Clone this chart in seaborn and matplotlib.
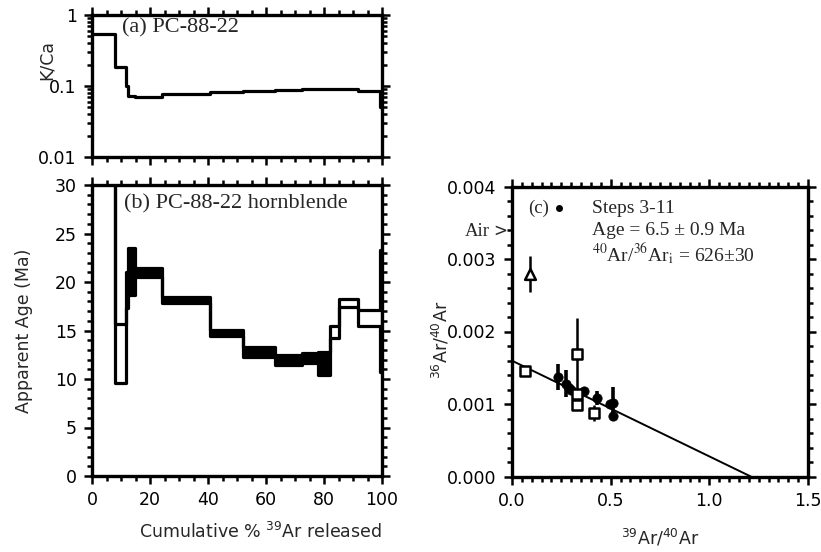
import matplotlib
matplotlib.use('Agg')
import matplotlib.pyplot as plt
import numpy as np
import pandas as pd
import seaborn as sns
from matplotlib.ticker import MultipleLocator, FixedLocator, NullFormatter, FormatStrFormatter, LogLocator

# ---- datos ----
# bordes de los pasos (% 39Ar acumulado)
pasos_borde = [0, 7.8, 11.7, 12.4, 14.8, 24.1, 40.7, 52.1, 63.1, 72.3, 78.0, 82.0, 85.0, 91.8, 99.3, 100]
kca = [0.54, 0.186, 0.10, 0.073, 0.069, 0.078, 0.081, 0.085, 0.089, 0.090, 0.090, 0.090, 0.090, 0.085, 0.05]
edad_min = [35.0, 9.6, 17.3, 18.7, 20.5, 17.8, 14.4, 12.3, 11.4, 11.6, 10.4, 14.2, 17.4, 15.5, 10.7]
edad_max = [60.0, 15.7, 21.0, 23.5, 21.4, 18.5, 15.05, 13.3, 12.5, 12.7, 12.8, 15.5, 18.2, 17.1, 23.3]
relleno = [False, False, True, True, True, True, True, True, True, True, True, False, False, False, False]

# isocrona: pasos 3-11 (circulos llenos)
iso_x = [0.232, 0.272, 0.289, 0.300, 0.367, 0.429, 0.497, 0.514, 0.514]
iso_y = [0.001375, 0.00128, 0.00122, 0.00119, 0.00118, 0.00108, 0.00100, 0.00102, 0.00083]
iso_err = [0.00018, 0.00019, 0.00006, 0.00004, 0.00004, 0.00010, 0.00004, 0.00021, 0.00007]
# pasos excluidos (cuadrados abiertos)
exc_x = [0.066, 0.328, 0.331, 0.328, 0.417]
exc_y = [0.00145, 0.00169, 0.00114, 0.00099, 0.00087]
exc_err = [0.00003, 0.00050, 0.00006, 0.00003, 0.00011]
# primer paso (triangulo abierto)
tri_x = [0.091]
tri_y = [0.00279]
tri_err = [0.00025]

intercepto = 1 / 626.0
x_intercepto = 1.21
aire = 1 / 295.5

sns.set_theme(style='ticks')
plt.rcParams['font.family'] = ['DejaVu Sans']
serif = ['Liberation Serif', 'DejaVu Serif']

fig = plt.figure(figsize=(8.21, 5.52), dpi=100)
W, H = 821.0, 552.0
ax_a = fig.add_axes([92 / W, 1 - 157 / H, 290 / W, 142 / H])
ax_b = fig.add_axes([92 / W, 1 - 476 / H, 290 / W, 291 / H])
ax_c = fig.add_axes([512 / W, 1 - 476.5 / H, 296 / W, 290 / H])


def estilo(ax):
    for s in ax.spines.values():
        s.set_linewidth(2.4)
        s.set_color('black')
    ax.tick_params(which='both', direction='out', top=True, right=True,
                   colors='black', labelsize=12.5, width=1.8, pad=5)
    ax.tick_params(which='major', length=6)
    ax.tick_params(which='minor', length=3.5)
    ax.set_facecolor('white')


# (a) K/Ca
xs = pasos_borde
df_a = pd.DataFrame({'x': xs, 'y': kca + [kca[-1]]})
sns.lineplot(data=df_a, x='x', y='y', ax=ax_a, color='black', lw=2.3,
             drawstyle='steps-post', estimator=None, sort=False)
ax_a.set_yscale('log')
ax_a.set_xlim(0, 100)
ax_a.set_ylim(0.01, 1)
ax_a.yaxis.set_major_locator(FixedLocator([0.01, 0.1, 1]))
ax_a.set_yticklabels(['0.01', '0.1', '1'])
ax_a.yaxis.set_minor_locator(LogLocator(base=10, subs=np.arange(2, 10)))
ax_a.yaxis.set_minor_formatter(NullFormatter())
ax_a.xaxis.set_major_locator(MultipleLocator(20))
ax_a.xaxis.set_minor_locator(MultipleLocator(5))
ax_a.set_xticklabels([])
ax_a.set_xlabel('')
ax_a.set_ylabel('K/Ca', fontsize=12.5)
ax_a.yaxis.set_label_coords(-0.125, 0.68)
ax_a.text(10.3, 0.66, '(a) PC-88-22', family=serif, fontsize=16, va='center')
estilo(ax_a)

# (b) espectro de edades
for i in range(len(edad_min)):
    if relleno[i]:
        ax_b.fill_between([pasos_borde[i], pasos_borde[i + 1]], edad_min[i], edad_max[i],
                          color='black', lw=0)
df_hi = pd.DataFrame({'x': xs, 'y': edad_max + [edad_max[-1]]})
df_lo = pd.DataFrame({'x': xs, 'y': edad_min + [edad_min[-1]]})
for d in (df_hi, df_lo):
    sns.lineplot(data=d, x='x', y='y', ax=ax_b, color='black', lw=2.3,
                 drawstyle='steps-post', estimator=None, sort=False)
ax_b.vlines(pasos_borde[-1], edad_min[-1], edad_max[-1], color='black', lw=2.3)
ax_b.set_xlim(0, 100)
ax_b.set_ylim(0, 30)
ax_b.xaxis.set_major_locator(MultipleLocator(20))
ax_b.xaxis.set_minor_locator(MultipleLocator(5))
ax_b.yaxis.set_major_locator(MultipleLocator(5))
ax_b.yaxis.set_minor_locator(MultipleLocator(1))
ax_b.set_ylabel('Apparent Age (Ma)', fontsize=12.5)
ax_b.yaxis.set_label_coords(-0.205, 0.5)
ax_b.set_xlabel('Cumulative % $^{39}$Ar released', fontsize=12.5, loc='right', labelpad=9)
ax_b.text(11, 28.1, '(b) PC-88-22 hornblende', family=serif, fontsize=16, va='center')
estilo(ax_b)

# (c) isocrona inversa
xl = np.array([0, x_intercepto])
yl = intercepto * (1 - xl / x_intercepto)
sns.lineplot(x=xl, y=yl, ax=ax_c, color='black', lw=1.4)
ax_c.errorbar(iso_x, iso_y, yerr=iso_err, fmt='none', ecolor='black', elinewidth=2.6, capsize=0)
ax_c.errorbar(exc_x, exc_y, yerr=exc_err, fmt='none', ecolor='black', elinewidth=1.8, capsize=0)
ax_c.errorbar(tri_x, tri_y, yerr=tri_err, fmt='none', ecolor='black', elinewidth=1.8, capsize=0)
sns.scatterplot(x=iso_x, y=iso_y, ax=ax_c, color='black', marker='o', s=45, edgecolor='black', zorder=4)
sns.scatterplot(x=exc_x, y=exc_y, ax=ax_c, color='white', marker='s', s=48,
                edgecolor='black', linewidth=1.8, zorder=4)
sns.scatterplot(x=tri_x, y=tri_y, ax=ax_c, color='white', marker='^', s=60,
                edgecolor='black', linewidth=1.8, zorder=4)
ax_c.set_xlim(0, 1.5)
ax_c.set_ylim(0, 0.004)
ax_c.xaxis.set_major_locator(MultipleLocator(0.5))
ax_c.xaxis.set_minor_locator(MultipleLocator(0.05))
ax_c.yaxis.set_major_locator(MultipleLocator(0.001))
ax_c.yaxis.set_minor_locator(MultipleLocator(0.0002))
ax_c.xaxis.set_major_formatter(FormatStrFormatter('%.1f'))
ax_c.yaxis.set_major_formatter(FormatStrFormatter('%.3f'))
ax_c.set_xlabel('$^{39}$Ar/$^{40}$Ar', fontsize=12.5, labelpad=13)
ax_c.set_ylabel('$^{36}$Ar/$^{40}$Ar', fontsize=12.5)
ax_c.yaxis.set_label_coords(-0.205, 0.47)
ax_c.text(0.08, 0.0037, '(c)', family=serif, fontsize=13.5, va='center')
ax_c.scatter([0.24], [0.0037], color='black', s=16, zorder=4)
ax_c.text(0.405, 0.0037, 'Steps 3-11', family=serif, fontsize=14, va='center', ha='left')
ax_c.text(0.405, 0.00339, 'Age = 6.5 ± 0.9 Ma', family=serif, fontsize=14, va='center')
ax_c.text(0.405, 0.00307, '$^{40}$Ar/$^{36}$Ar$_{\\mathrm{i}}$ = 626±30', family=serif,
          fontsize=14, va='center', math_fontfamily='stix')
ax_c.text(-0.11, aire, 'Air', family=serif, fontsize=13.5, va='center', ha='right', clip_on=False)
ax_c.text(-0.025, aire, '>', fontsize=12, va='center', ha='right', clip_on=False)
estilo(ax_c)

fig.savefig('out.png', dpi=100, facecolor='white')
